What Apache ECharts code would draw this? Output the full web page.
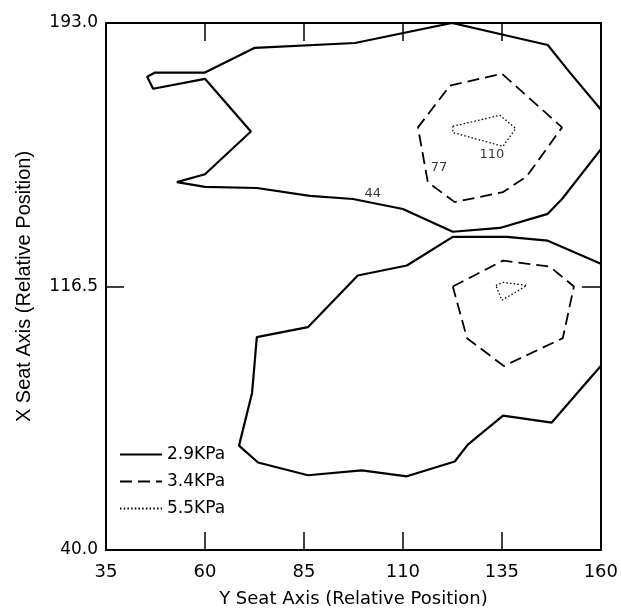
<!DOCTYPE html>
<html>
<head>
<meta charset="utf-8">
<script src="https://cdn.jsdelivr.net/npm/echarts@6/dist/echarts.min.js"></script>
<style>
html,body{margin:0;padding:0;background:#fff;}
#chart{width:621px;height:613px;}
</style>
</head>
<body>
<div id="chart"></div>
<script>
// Tick values
const xTicks = [35, 60, 85, 110, 135, 160];
const yTicks = [40.0, 116.5, 193.0];
const levelNames = ['2.9KPa', '3.4KPa', '5.5KPa'];

// 2.9 KPa contour (upper branch)
const c29Upper = [
  [160, 156.3], [150.2, 141.9], [146.6, 137.6], [134.5, 133.5], [122.6, 132.4],
  [110, 139], [97.4, 141.9], [86.5, 142.8], [73.1, 145.1], [60, 145.4],
  [52.9, 146.8], [60, 149.1], [71.6, 161.5], [60, 176.8], [46.9, 173.9],
  [45.4, 177.4], [47.4, 178.6], [60, 178.6], [72.6, 185.8], [97.9, 187.2],
  [122.4, 193], [146.6, 186.6], [152.2, 178.6], [160, 167.9]
];
// 2.9 KPa contour (lower branch)
const c29Lower = [
  [160, 123.1], [146.6, 129.8], [136.3, 130.9], [122.6, 130.9], [111, 122.6],
  [98.6, 119.7], [86, 104.7], [73.1, 101.8], [71.9, 85.6], [68.6, 70.3],
  [73.4, 65.4], [86, 61.7], [99.6, 63.1], [111, 61.4], [123.1, 65.7],
  [126.4, 70.6], [135.3, 79], [147.6, 77], [155.2, 87.1], [160, 93.4]
];
// 3.4 KPa contours
const c34Upper = [
  [121.9, 174.8], [135, 178.3], [150.2, 162.7], [141.3, 148.5], [135.3, 143.9],
  [123.1, 141], [116.3, 146.8], [113.8, 162.7], [121.9, 174.8]
];
const c34Lower = [
  [122.6, 116.5], [135.3, 124], [147.1, 122.3], [153.2, 116.5], [150.4, 101.5],
  [135.5, 93.4], [126.2, 101.5], [122.6, 116.5]
];
// 5.5 KPa contours
const c55Upper = [
  [122.6, 163], [134.5, 166.2], [138.5, 162.4], [135.3, 157.2], [122.6, 161.2], [122.6, 163]
];
const c55Lower = [
  [133.5, 116.8], [135.3, 117.7], [141.3, 116.8], [135, 112.5], [133.5, 116.8]
];
// Contour value labels
const contourLabels = [
  {value: [102.4, 143.6], text: '44'},
  {value: [119.1, 150.9], text: '77'},
  {value: [132.5, 154.9], text: '110'}
];

const FONT = 'DejaVu Sans';
const solid = {color: '#000', width: 2.2, type: 'solid'};
const dashed = {color: '#000', width: 1.8, type: [12, 6]};
const dotted = {color: '#000', width: 1.3, type: [1.5, 2.2]};

function lineSeries(name, data, style) {
  return {
    name: name, type: 'line', data: data, symbol: 'none', silent: true,
    lineStyle: style, itemStyle: {color: '#000'}, animation: false, z: 3
  };
}

const chart = echarts.init(document.getElementById('chart'), null, {renderer: 'canvas'});
const axisLine = {show: true, lineStyle: {color: '#000', width: 2}};
chart.setOption({
  backgroundColor: '#fff',
  animation: false,
  grid: {left: 106, right: 20, top: 23, bottom: 60, containLabel: false},
  legend: {
    data: levelNames, orient: 'vertical', left: 119, top: 446,
    itemWidth: 42, itemHeight: 14, itemGap: 10, padding: 0,
    itemStyle: {opacity: 0, borderWidth: 0},
    textStyle: {fontFamily: FONT, fontSize: 17, color: '#000'}
  },
  xAxis: [
    {
      type: 'value', min: xTicks[0], max: xTicks[xTicks.length - 1], interval: 25,
      position: 'bottom', axisLine: axisLine,
      axisTick: {show: true, inside: true, length: 18, lineStyle: {color: '#000', width: 1.5}},
      axisLabel: {fontFamily: FONT, fontSize: 18, color: '#000', margin: 13},
      splitLine: {show: false},
      name: 'Y Seat Axis (Relative Position)', nameLocation: 'middle', nameGap: 40,
      nameTextStyle: {fontFamily: FONT, fontSize: 18, color: '#000'}
    },
    {
      type: 'value', min: xTicks[0], max: xTicks[xTicks.length - 1], interval: 25,
      position: 'top', axisLine: axisLine,
      axisTick: {show: true, inside: true, length: 18, lineStyle: {color: '#000', width: 1.5}},
      axisLabel: {show: false}, splitLine: {show: false}
    }
  ],
  yAxis: [
    {
      type: 'value', min: yTicks[0], max: yTicks[yTicks.length - 1], interval: 76.5,
      position: 'left', axisLine: axisLine,
      axisTick: {show: true, inside: true, length: 18, lineStyle: {color: '#000', width: 1.5}},
      axisLabel: {fontFamily: FONT, fontSize: 17, color: '#000', margin: 8,
        formatter: v => v.toFixed(1)},
      splitLine: {show: false},
      name: 'X Seat Axis (Relative Position)', nameLocation: 'middle', nameGap: 72,
      nameTextStyle: {fontFamily: 'Liberation Sans', fontSize: 20, color: '#000'}
    },
    {
      type: 'value', min: yTicks[0], max: yTicks[yTicks.length - 1], interval: 76.5,
      position: 'right', axisLine: axisLine,
      axisTick: {show: true, inside: true, length: 19, lineStyle: {color: '#000', width: 1.5}},
      axisLabel: {show: false}, splitLine: {show: false}
    }
  ],
  series: [
    lineSeries(levelNames[0], c29Upper, solid),
    lineSeries(levelNames[0], c29Lower, solid),
    lineSeries(levelNames[1], c34Upper, dashed),
    lineSeries(levelNames[1], c34Lower, dashed),
    lineSeries(levelNames[2], c55Upper, dotted),
    lineSeries(levelNames[2], c55Lower, dotted),
    {
      name: 'labels', type: 'scatter', symbolSize: 1, silent: true,
      itemStyle: {color: 'rgba(0,0,0,0)'},
      data: contourLabels.map(d => ({value: d.value, label: {formatter: d.text}})),
      label: {show: true, position: 'inside', fontFamily: FONT, fontSize: 13, color: '#000'},
      z: 4
    }
  ]
});
</script>
</body>
</html>
